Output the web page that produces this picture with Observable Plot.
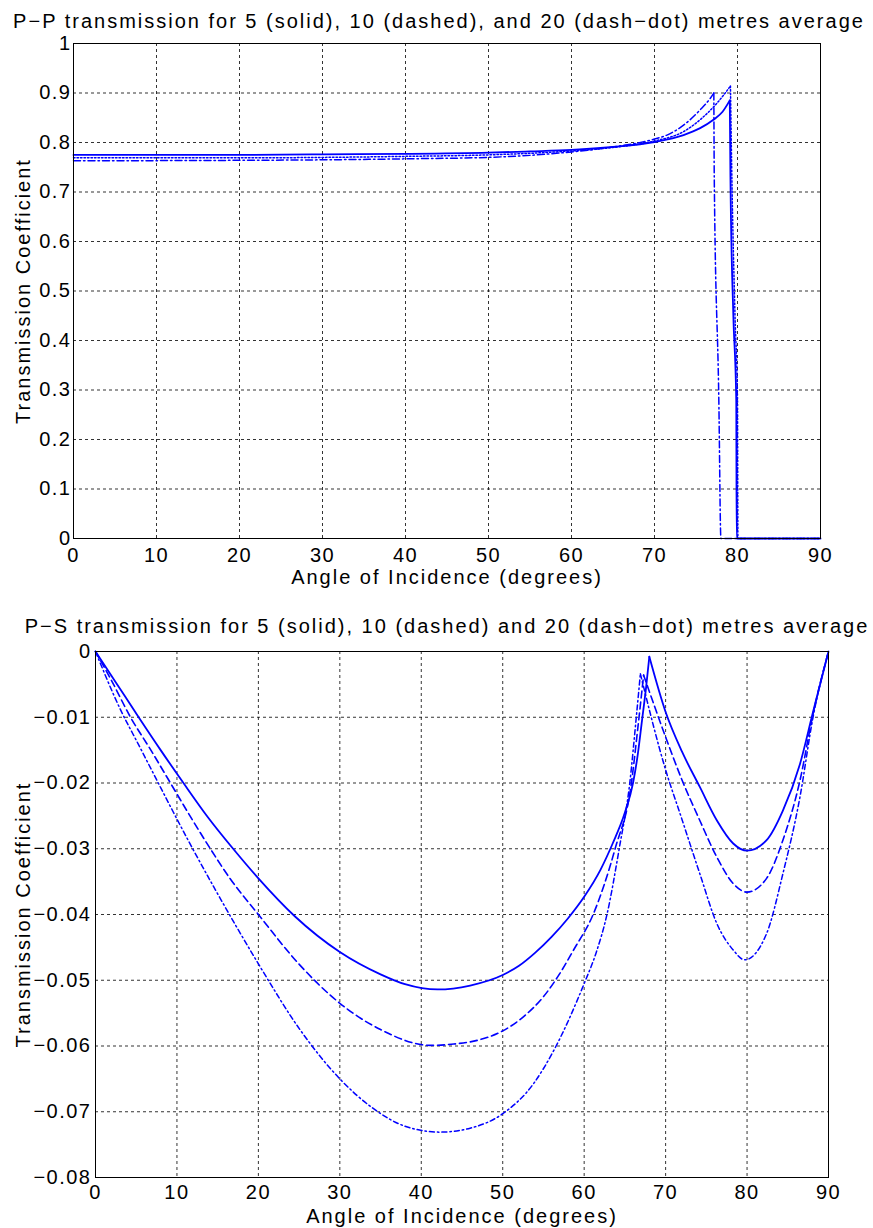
<!DOCTYPE html>
<html>
<head>
<meta charset="utf-8">
<script src="https://cdn.jsdelivr.net/npm/d3@7"></script>
<script src="https://cdn.jsdelivr.net/npm/@observablehq/plot@0.6"></script>
<style>
  html, body { margin: 0; padding: 0; background: #fff; }
  #chart svg { display: block; }
  #chart svg text { letter-spacing: 2px; }
  #chart svg g[aria-label="x-axis tick label"] text,
  #chart svg g[aria-label="y-axis tick label"] text { letter-spacing: 1.5px; }
</style>
</head>
<body>
<div id="chart"></div>
<script>
// ---------- Panel 1: P-P transmission ----------
const ppTitle = "P\u2212P transmission for 5 (solid), 10 (dashed), and 20 (dash\u2212dot) metres average";
const ppXTicks = [0, 10, 20, 30, 40, 50, 60, 70, 80, 90];
const ppYTicks = [0, 0.1, 0.2, 0.3, 0.4, 0.5, 0.6, 0.7, 0.8, 0.9, 1];

const pp5X = [0, 10, 20, 30, 40, 50, 55, 60, 65, 70, 73.5, 75.5, 77.1, 78.2, 79.07, 79.15, 79.5, 79.85, 79.9, 90];
const pp5Y = [0.775, 0.775, 0.775, 0.776, 0.777, 0.7795, 0.782, 0.785, 0.791, 0.801, 0.815, 0.829, 0.846, 0.862, 0.885, 0.73, 0.45, 0.28, 0, 0];

const pp10X = [0, 20, 40, 50, 60, 65, 70, 73.5, 75.5, 77.5, 79.15, 79.3, 79.7, 80.0, 80.05, 90];
const pp10Y = [0.769, 0.769, 0.772, 0.775, 0.783, 0.790, 0.803, 0.822, 0.846, 0.879, 0.914, 0.75, 0.45, 0.28, 0, 0];

const pp20X = [0, 20, 30, 40, 50, 55, 60, 65, 70, 71.5, 73.5, 75.5, 76.75, 77.15, 77.2, 77.75, 78.0, 90];
const pp20Y = [0.763, 0.764, 0.765, 0.767, 0.770, 0.774, 0.781, 0.791, 0.807, 0.815, 0.835, 0.866, 0.89, 0.90, 0.73, 0.28, 0, 0];

// ---------- Panel 2: P-S transmission ----------
const psTitle = "P\u2212S transmission for 5 (solid), 10 (dashed) and 20 (dash\u2212dot) metres average";
const psXTicks = [0, 10, 20, 30, 40, 50, 60, 70, 80, 90];
const psYTicks = [0, -0.01, -0.02, -0.03, -0.04, -0.05, -0.06, -0.07, -0.08];

const ps5X = [0, 2.5, 5.3, 8, 10.8, 13.8, 16.9, 20, 24.5, 30, 35, 38, 42, 46, 50, 52, 54, 56, 58, 60, 62, 63.5, 65, 66, 66.6, 67.1, 67.6, 68.0, 70, 72, 74.2, 76.3, 78.3, 80, 82.4, 84.4, 86.5, 88.1, 90];
const ps5Y = [0, -0.0047, -0.010, -0.0150, -0.020, -0.0252, -0.030, -0.0345, -0.0403, -0.0457, -0.0491, -0.0506, -0.0514, -0.0508, -0.0492, -0.0478, -0.0458, -0.0434, -0.0406, -0.0373, -0.0332, -0.0292, -0.0245, -0.0200, -0.0155, -0.0105, -0.0055, -0.0008, -0.0092, -0.0152, -0.0206, -0.0257, -0.0292, -0.0303, -0.0287, -0.0242, -0.0171, -0.0092, 0];

const ps10X = [0, 2, 4.3, 6.8, 9.2, 11.6, 14.1, 16.5, 20, 25.1, 30, 35, 41.1, 44, 47, 50, 52.5, 55, 57, 58.7, 61.1, 63.8, 65.8, 66.6, 67.3, 70, 72, 74.2, 76.3, 78.3, 80, 82.4, 84.4, 86.5, 88.1, 90];
const ps10Y = [0, -0.0045, -0.010, -0.015, -0.020, -0.025, -0.030, -0.0345, -0.040, -0.0477, -0.0535, -0.0575, -0.0599, -0.0597, -0.0591, -0.0577, -0.0556, -0.0525, -0.0490, -0.0454, -0.040, -0.030, -0.020, -0.0115, -0.0036, -0.013, -0.0195, -0.0257, -0.0313, -0.0353, -0.0366, -0.0345, -0.0287, -0.0196, -0.0095, 0];

const ps20X = [0, 3.05, 5.3, 7.5, 9.5, 11.5, 14.7, 17, 20, 25.1, 30, 34.1, 38, 42.3, 46, 50, 53.8, 56.3, 60, 61.5, 62.8, 64.3, 65.6, 66.4, 66.9, 70, 72, 74.2, 76.3, 78.3, 79.7, 82.4, 84.4, 86.5, 88.1, 90];
const ps20Y = [0, -0.0088, -0.0142, -0.0195, -0.0243, -0.0290, -0.0362, -0.0412, -0.0475, -0.0575, -0.0650, -0.0695, -0.0722, -0.0731, -0.0725, -0.0703, -0.0657, -0.0606, -0.0505, -0.0457, -0.040, -0.030, -0.020, -0.010, -0.0034, -0.018, -0.0255, -0.0338, -0.0414, -0.0454, -0.0469, -0.0429, -0.0338, -0.0221, -0.010, 0];

const axisLabelX = "Angle of Incidence (degrees)";
const axisLabelY = "Transmission Coefficient";

// ---------- helpers ----------
const FONT = "'Liberation Sans', Arial, Helvetica, sans-serif";
const BLUE = "#0000ff";

// split a series at its interior maximum (cusp) so each side is smoothed independently
function segments(name, xs, ys) {
  let k = 1;
  for (let i = 1; i < ys.length - 1; i++) if (ys[i] > ys[k]) k = i;
  const rows = [];
  xs.forEach((x, i) => {
    if (i <= k) rows.push({x, y: ys[i], z: name + "-a"});
    if (i >= k) rows.push({x, y: ys[i], z: name + "-b"});
  });
  return rows;
}

function panel({title, xTicks, yTicks, yDomain, yFormat, series, height, mL, mR, mT, mB, titleDx, titleDy, yLabDx, xLabDy, yPad, xPad}) {
  const lineMarks = series.map(s =>
    Plot.line(segments(s.name, s.x, s.y), {
      x: "x", y: "y", z: "z", stroke: BLUE, strokeWidth: s.width,
      strokeDasharray: s.dash, curve: "monotone-x"
    })
  );
  return Plot.plot({
    width: 873, height,
    marginLeft: mL, marginRight: mR, marginTop: mT, marginBottom: mB,
    style: {fontFamily: FONT, fontSize: "20px", color: "#000", background: "#fff", overflow: "visible"},
    x: {domain: [0, 90]},
    y: {domain: yDomain},
    marks: [
      Plot.gridX(xTicks, {stroke: "#000", strokeOpacity: 0.8, strokeDasharray: "3,3", strokeWidth: 1}),
      Plot.gridY(yTicks, {stroke: "#000", strokeOpacity: 0.8, strokeDasharray: "3,3", strokeWidth: 1}),
      ...lineMarks,
      Plot.frame({stroke: "#000", strokeWidth: 1}),
      Plot.axisX(xTicks, {tickSize: 0, tickPadding: xPad, fontSize: 20, label: null, tickFormat: d => String(d)}),
      Plot.axisY(yTicks, {tickSize: 0, tickPadding: yPad, fontSize: 20, label: null, tickFormat: yFormat}),
      Plot.text([title], {text: d => d, frameAnchor: "top", lineAnchor: "middle", textAnchor: "middle", dx: titleDx, dy: titleDy, fontSize: 20}),
      Plot.text([axisLabelX], {text: d => d, frameAnchor: "bottom", lineAnchor: "middle", textAnchor: "middle", dy: xLabDy, fontSize: 20}),
      Plot.text([axisLabelY], {text: d => d, frameAnchor: "left", lineAnchor: "middle", textAnchor: "middle", dx: yLabDx, rotate: -90, fontSize: 20})
    ]
  });
}

const ppChart = panel({
  title: ppTitle, xTicks: ppXTicks, yTicks: ppYTicks, yDomain: [0, 1],
  yFormat: d => String(d),
  series: [
    {name: "pp5", x: pp5X, y: pp5Y, dash: null, width: 1.8},
    {name: "pp10", x: pp10X, y: pp10Y, dash: "1.5,2", width: 1.5},
    {name: "pp20", x: pp20X, y: pp20Y, dash: "7,3,1.5,3", width: 1.5}
  ],
  height: 600, mL: 73, mR: 53, mT: 43, mB: 62,
  titleDx: -8, titleDy: -22, yLabDx: -50, xLabDy: 39, yPad: 2, xPad: 9
});

const psChart = panel({
  title: psTitle, xTicks: psXTicks, yTicks: psYTicks, yDomain: [-0.08, 0],
  yFormat: d => d === 0 ? "0" : "\u2212" + Math.abs(d).toFixed(2),
  series: [
    {name: "ps5", x: ps5X, y: ps5Y, dash: null, width: 1.8},
    {name: "ps10", x: ps10X, y: ps10Y, dash: "7,4", width: 1.6},
    {name: "ps20", x: ps20X, y: ps20Y, dash: "5,3,1.5,3", width: 1.5}
  ],
  height: 628, mL: 95, mR: 45, mT: 51, mB: 51,
  titleDx: -15, titleDy: -25, yLabDx: -72, xLabDy: 39, yPad: 4, xPad: 7
});

document.getElementById("chart").append(ppChart, psChart);
</script>
</body>
</html>
